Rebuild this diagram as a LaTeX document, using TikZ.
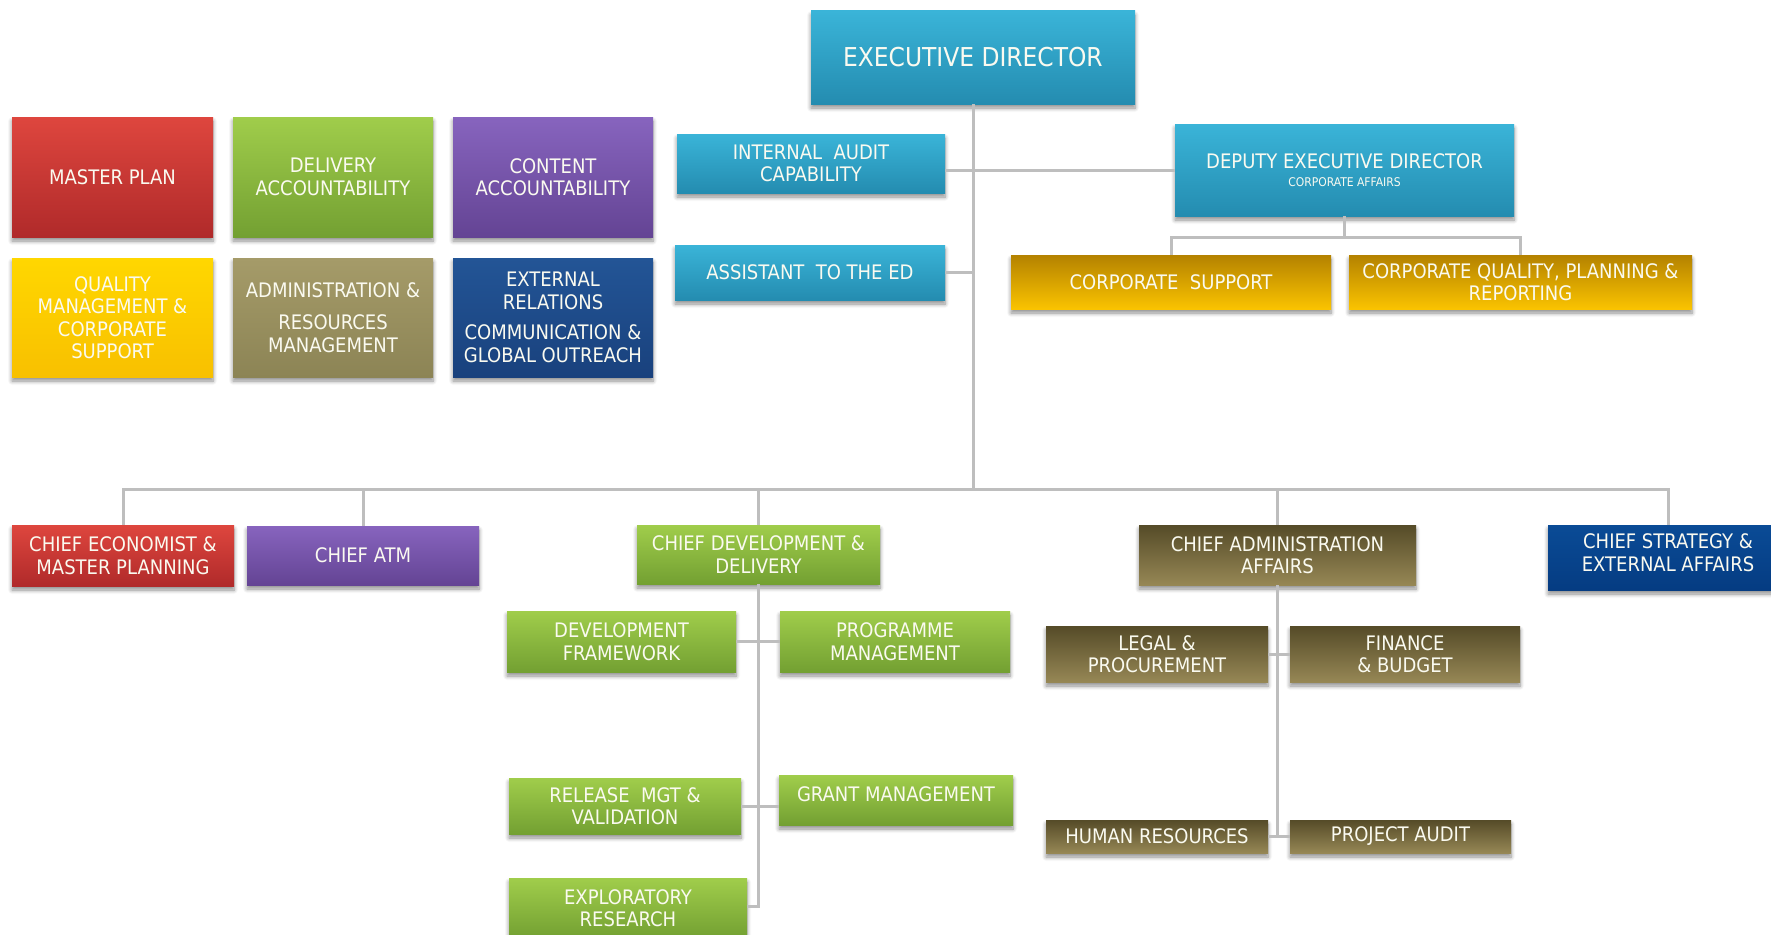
\documentclass[tikz,border=0pt]{standalone}
\usepackage{fontspec}
\setmainfont{DejaVu Sans Condensed}
\usetikzlibrary{shadows.blur}

% palette
\definecolor{cyanT}{RGB}{58,180,216}\definecolor{cyanB}{RGB}{36,140,176}
\definecolor{redT}{RGB}{222,70,62}\definecolor{redB}{RGB}{176,42,42}
\definecolor{grnT}{RGB}{160,205,75}\definecolor{grnB}{RGB}{115,160,50}
\definecolor{purT}{RGB}{135,100,190}\definecolor{purB}{RGB}{100,68,148}
\definecolor{yelT}{RGB}{255,215,0}\definecolor{yelB}{RGB}{248,192,0}
\definecolor{oliT}{RGB}{165,155,105}\definecolor{oliB}{RGB}{140,132,85}
\definecolor{navT}{RGB}{35,85,150}\definecolor{navB}{RGB}{25,65,125}
\definecolor{gldT}{RGB}{180,130,0}\definecolor{gldB}{RGB}{250,195,0}
\definecolor{drkT}{RGB}{85,75,40}\definecolor{drkB}{RGB}{150,135,85}
\definecolor{sbT}{RGB}{10,75,150}\definecolor{sbB}{RGB}{5,60,130}
\definecolor{txt}{RGB}{250,250,240}
\definecolor{link}{RGB}{190,190,190}

\tikzset{
  box/.style={rectangle, inner sep=2pt, align=center, text=txt,
    font=\fontsize{20}{22.5}\selectfont,
    blur shadow={shadow xshift=0pt, shadow yshift=-4pt, shadow blur radius=4pt,
      shadow blur steps=6, shadow opacity=45}},
  wh/.style 2 args={minimum width=#1pt, minimum height=#2pt},
  cyanbox/.style={box, top color=cyanT, bottom color=cyanB},
  redbox/.style={box, top color=redT, bottom color=redB},
  grnbox/.style={box, top color=grnT, bottom color=grnB},
  purbox/.style={box, top color=purT, bottom color=purB},
  yelbox/.style={box, top color=yelT, bottom color=yelB},
  olibox/.style={box, top color=oliT, bottom color=oliB},
  navbox/.style={box, top color=navT, bottom color=navB},
  gldbox/.style={box, top color=gldT, bottom color=gldB},
  drkbox/.style={box, top color=drkT, bottom color=drkB},
  sebox/.style={box, top color=sbT, bottom color=sbB},
  conn/.style={draw=link, line width=3pt},
}

\begin{document}
\begin{tikzpicture}[x=1pt, y=-1pt]
\useasboundingbox (0,0) rectangle (1771,934);

% junction points
\coordinate (bar) at (973,489);
\coordinate (dedbar) at (1344.5,237);
\coordinate (devend) at (758.5,906);

% top level
\node[cyanbox, wh={324}{93}, font=\fontsize{26}{28}\selectfont] (ED) at (973,57.5) {EXECUTIVE DIRECTOR};
\node[cyanbox, wh={268}{59}] (IA) at (811,163.5) {INTERNAL\ \ AUDIT\\CAPABILITY};
\node[cyanbox, wh={270}{55}] (AS) at (810,272.5) {ASSISTANT\ \ TO THE ED};
\node[cyanbox, wh={339}{92}] (DED) at (1344.5,170) {DEPUTY EXECUTIVE DIRECTOR\\[-4pt]{\fontsize{12}{14}\selectfont CORPORATE AFFAIRS}};
\node[gldbox, wh={320}{54}] (CS) at (1171,282) {CORPORATE\ \ SUPPORT};
\node[gldbox, wh={343}{54}] (CQ) at (1520.5,282) {CORPORATE QUALITY, PLANNING \&\\REPORTING};

% mandate grid
\node[redbox, wh={201}{120}] (MP) at (112.5,177) {MASTER PLAN};
\node[grnbox, wh={200}{120}] (DA) at (333,177) {DELIVERY\\ACCOUNTABILITY};
\node[purbox, wh={200}{120}] (CA) at (553,177) {CONTENT\\ACCOUNTABILITY};
\node[yelbox, wh={201}{119}] (QM) at (112.5,317.5) {QUALITY\\MANAGEMENT \&\\CORPORATE\\SUPPORT};
\node[olibox, wh={200}{119}] (AR) at (333,317.5) {ADMINISTRATION \&\\[10pt]RESOURCES\\MANAGEMENT};
\node[navbox, wh={200}{119}] (ER) at (553,317.5) {EXTERNAL\\RELATIONS\\[8pt]COMMUNICATION \&\\GLOBAL OUTREACH};

% chiefs
\node[redbox, wh={222}{61}] (CE) at (123,555.5) {CHIEF ECONOMIST \&\\MASTER PLANNING};
\node[purbox, wh={232}{59}] (ATM) at (363,555.5) {CHIEF ATM};
\node[grnbox, wh={243}{59}] (CDD) at (758.5,554.5) {CHIEF DEVELOPMENT \&\\DELIVERY};
\node[drkbox, wh={277}{60}] (CAA) at (1277.5,555) {CHIEF ADMINISTRATION\\AFFAIRS};
\node[sebox, wh={240}{65}, text depth=10pt] (CSE) at (1668,557.5) {CHIEF STRATEGY \&\\EXTERNAL AFFAIRS};

% development units
\node[grnbox, wh={229}{61}] (DF) at (621.5,641.5) {DEVELOPMENT\\FRAMEWORK};
\node[grnbox, wh={230}{61}] (PM) at (895,641.5) {PROGRAMME\\MANAGEMENT};
\node[grnbox, wh={232}{56}] (RM) at (625,806) {RELEASE\ \ MGT \&\\VALIDATION};
\node[grnbox, wh={234}{50}, text depth=12pt] (GM) at (896,800) {GRANT MANAGEMENT};
\node[grnbox, wh={238}{60}] (EX) at (628,908) {EXPLORATORY\\RESEARCH};

% administration units
\node[drkbox, wh={222}{56}] (LP) at (1157,654) {LEGAL \&\\PROCUREMENT};
\node[drkbox, wh={230}{56}] (FB) at (1405,654) {FINANCE\\\& BUDGET};
\node[drkbox, wh={222}{33}] (HR) at (1157,836.5) {HUMAN RESOURCES};
\node[drkbox, wh={221}{33}] (PA) at (1400.5,836.5) {PROJECT AUDIT};

% connectors
\draw[conn] (ED.south) -- (bar);
\draw[conn] (IA.east |- DED.west) -- (DED.west);
\draw[conn] (AS.east) -- (AS.east -| bar);
\draw[conn] (DED.south) -- (dedbar);
\draw[conn] (CS.north) |- (dedbar) -| (CQ.north);
\draw[conn] (CE.north) |- (bar) -| (CSE.north);
\draw[conn] (ATM.north) -- (ATM.north |- bar);
\draw[conn] (CDD.north) -- (CDD.north |- bar);
\draw[conn] (CAA.north) -- (CAA.north |- bar);
\draw[conn] (CDD.south) -- (devend) -- (devend -| EX.east);
\draw[conn] (DF.east) -- (PM.west);
\draw[conn] (RM.east) -- (RM.east -| GM.west);
\draw[conn] (CAA.south) -- (CAA.south |- HR.east);
\draw[conn] (LP.east) -- (FB.west);
\draw[conn] (HR.east) -- (PA.west);
\end{tikzpicture}
\end{document}
